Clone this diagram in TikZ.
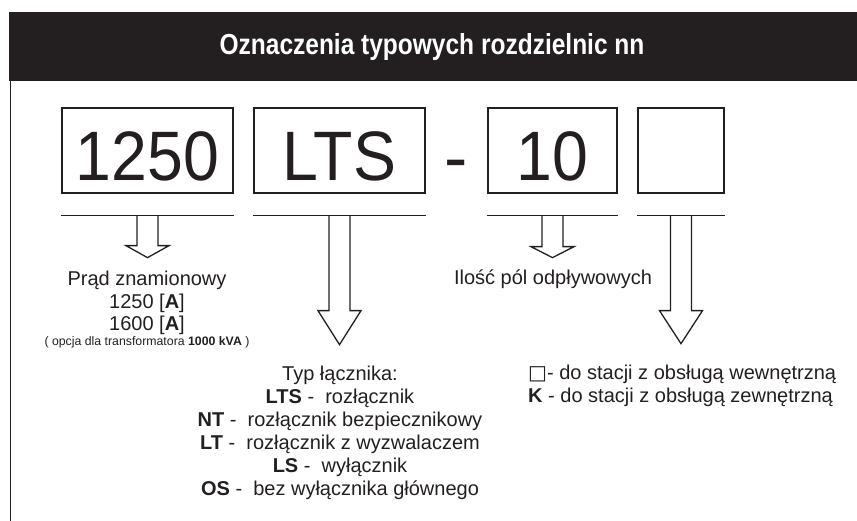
\documentclass[tikz,border=0pt]{standalone}
\usepackage{fontspec}
\usepackage{graphicx}
\setmainfont{Liberation Sans}
\newfontfamily\symfont{DejaVu Sans}
\definecolor{ink}{RGB}{35,31,32}
\newcommand{\boxtext}[1]{\scalebox{0.92}[1]{#1}}
\tikzset{
  codebox/.style={draw=ink, line width=1.3pt, minimum height=85pt, text height=61pt,
    text depth=0pt, inner sep=0pt, text=ink, font=\fontsize{70}{70}\selectfont},
  bar/.style={draw=ink, line width=1.3pt},
  hollow/.style={draw=ink, line width=1.3pt, line join=miter},
  caption/.style={font=\fontsize{20}{23}\selectfont, text=ink, align=center,
    inner sep=0pt, anchor=base}
}
% hollow block arrow: start, shaft length, head length
\newcommand{\hollowarrow}[3]{%
  \draw[hollow] (#1) ++(-10.5,0) -- ++(0,#2) -- ++(-11,0) -- ++(21.5,#3)
    -- ++(21.5,-#3) -- ++(-11,0) -- ++(0,-#2);}
\begin{document}
\begin{tikzpicture}[x=1pt, y=-1pt]
  \useasboundingbox (0,0) rectangle (857,521);
  \fill[ink] (9,12) rectangle (857,81);
  \node[text=white, anchor=base, inner sep=0pt] (title) at (432,55)
    {\scalebox{0.845}[1]{\fontsize{29}{29}\selectfont\bfseries Oznaczenia typowych rozdzielnic nn}};
  \draw[ink, line width=1.5pt] (10.5,81) -- (10.5,521);

  \node[codebox, minimum width=171pt] (b1250) at (147.5,150.5) {\boxtext{1250}};
  \node[codebox, minimum width=171pt] (bLTS) at (339.5,150.5) {\boxtext{LTS}};
  \node[text=ink, font=\fontsize{70}{70}\selectfont, anchor=base, inner sep=0pt] (dash) at (456,182) {-};
  \node[codebox, minimum width=129pt] (b10) at (552.5,150.5) {\boxtext{10}};
  \node[codebox, minimum width=86pt] (bX) at (681,150.5) {};

  \foreach \b in {b1250,bLTS,b10,bX} {
    \coordinate (\b-top) at ([yshift=-22pt]\b.south);
    \draw[bar] (\b-top -| \b.west) -- (\b-top -| \b.east);
  }
  \hollowarrow{b1250-top}{30}{12}
  \hollowarrow{bLTS-top}{95}{34}
  \hollowarrow{b10-top}{31}{11}
  \hollowarrow{bX-top}{95}{33}

  % base = baseline of the last line
  \node[caption] (prad) at (147,331) {Prąd znamionowy\\1250 [\textbf{A}]\\1600 [\textbf{A}]};
  \node[caption, font=\fontsize{12.3}{14}\selectfont] (opcja) at (147,346)
    {( opcja dla transformatora \textbf{1000 kVA} )};
  \node[caption] (ilosc) at (553,285) {Ilość pól odpływowych};
  \node[caption] (typ) at (340,495) {Typ łącznika:\\
    \textbf{LTS} -~ rozłącznik\\
    \textbf{NT} -~ rozłącznik bezpiecznikowy\\
    \textbf{LT} -~ rozłącznik z wyzwalaczem\\
    \textbf{LS} -~ wyłącznik\\
    \textbf{OS} -~ bez wyłącznika głównego};
  \node[caption, font=\fontsize{20}{22}\selectfont, align=left, anchor=base west] (stacja) at (528,402)
    {{\symfont □}- do stacji z obsługą wewnętrzną\\
     \textbf{K} - do stacji z obsługą zewnętrzną};
\end{tikzpicture}
\end{document}
